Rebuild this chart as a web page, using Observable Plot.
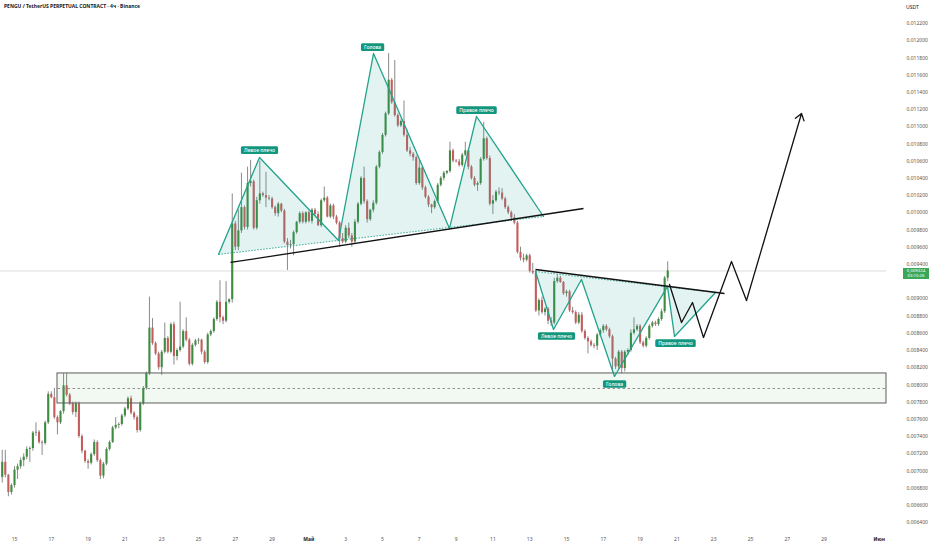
<!DOCTYPE html>
<html><head><meta charset="utf-8">
<script src="https://cdn.jsdelivr.net/npm/d3@7"></script>
<script src="https://cdn.jsdelivr.net/npm/@observablehq/plot@0.6"></script>
<style>
body{margin:0;background:#fff;font-family:"Noto Sans",sans-serif}
#wrap{position:relative;width:932px;height:550px;overflow:hidden}
#title{position:absolute;left:4px;top:3px;font-size:5px;font-weight:700;color:#131722;white-space:nowrap}
#cur{position:absolute;left:906px;top:4px;font-size:5px;color:#131722}
#price{position:absolute;left:903px;width:26px;height:11px;background:#3aa757;color:#fff;font-size:4.3px;line-height:5px;text-align:center;padding-top:0.5px;box-sizing:border-box}
</style></head><body><div id="wrap"><div id="title"></div><div id="cur"></div><div id="price"></div></div>
<script>
// ---------- data (prices in 1e-6 USDT) ----------
const title = "PENGU / TetherUS PERPETUAL CONTRACT · 4ч · Binance";
const currency = "USDT";
const firstBar = "2025-04-14T08:00:00Z";
const barHours = 4;
// [open, high, low, close]
const ohlc = [
[6925,7240,6860,7100],[7100,7240,6920,6950],[6950,6960,6700,6750],[6750,6850,6720,6830],[6830,7050,6800,7010],
[7010,7080,6900,7050],[7050,7150,7020,7120],[7120,7200,7050,7160],[7160,7280,7130,7250],[7250,7280,7100,7260],
[7260,7460,7230,7440],[7440,7560,7400,7450],[7450,7470,7310,7330],[7330,7350,7180,7320],[7320,7580,7300,7560],
[7560,7920,7540,7890],[7890,7920,7840,7850],[7850,7960,7600,7620],[7620,7640,7420,7560],[7560,7700,7540,7690],
[7690,8130,7660,7990],[7990,8130,7860,7880],[7880,7900,7760,7780],[7780,7800,7650,7680],[7680,7800,7620,7780],
[7780,7800,7380,7400],[7400,7420,7200,7230],[7230,7240,7090,7110],[7110,7130,7020,7090],[7090,7210,7070,7190],
[7190,7360,7170,7330],[7330,7350,7100,7120],[7120,7140,6900,6940],[6940,7100,6910,7080],[7080,7270,7060,7250],
[7250,7350,7230,7330],[7330,7520,7320,7500],[7500,7620,7480,7530],[7530,7560,7490,7540],[7540,7660,7520,7640],
[7640,7740,7620,7720],[7720,7860,7700,7840],[7840,7870,7650,7670],[7670,7690,7590,7620],[7620,7640,7440,7470],
[7470,7800,7450,7780],[7780,7980,7760,7960],[7960,8150,7940,8130],
[8130,9020,8110,8660],[8660,8770,8460,8480],[8480,8500,8340,8360],[8360,8380,8170,8200],[8200,8400,8110,8380],
[8380,8720,8360,8540],[8540,8560,8360,8380],[8380,8720,8360,8700],[8700,8730,8230,8330],[8330,8420,8280,8400],
[8400,8960,8380,8440],[8440,8640,8420,8620],[8620,8780,8500,8520],[8520,8540,8220,8240],[8240,8480,8220,8460],
[8460,8530,8440,8510],[8510,8540,8470,8520],[8520,8530,8350,8380],[8380,8400,8240,8260],[8260,8600,8240,8580],
[8580,8640,8560,8620],[8620,8780,8600,8760],[8760,8980,8740,8960],[8960,9210,8720,8780],[8780,8800,8700,8740],
[8740,9200,8720,8960],[8960,9000,8940,8990],[8990,10220,8950,9870],
[9870,9900,9560,9600],[9600,10030,9560,9790],[9790,10460,9760,10060],[10060,10080,9800,9830],[9830,10530,9800,10340],
[10340,10610,10300,10360],[10360,10380,9800,9820],[9820,10180,9800,10140],[10140,10600,10100,10220],[10220,10240,10180,10200],
[10200,10470,10060,10170],[10170,10200,10140,10160],[10160,10180,10040,10060],[10060,10080,9960,9990],[9990,10120,9950,10100],
[10100,10110,10000,10020],[10020,10040,9640,9660],[9660,9700,9330,9620],[9620,9680,9580,9630],[9630,9790,9500,9770],
[9770,9900,9750,9890],[9890,10010,9870,9990],[9990,10010,9870,9890],[9890,10010,9870,10000],[10000,10020,9880,9900],
[9900,10050,9870,10030],[10030,10050,9960,9980],[9980,10010,9840,9850],[9850,10160,9830,10140],[10140,10300,10120,10170],
[10170,10190,9940,9950],[9950,10100,9930,10080],[10080,10100,9920,9950],[9950,9970,9860,9880],[9880,9900,9600,9700],
[9700,9760,9640,9660],[9660,9850,9640,9820],[9820,9880,9700,9730],[9730,9760,9600,9660],[9660,9920,9640,9890],
[9890,10120,9870,10100],[10100,10420,10080,10400],[10400,10530,10100,10130],[10130,10150,9880,9920],[9920,10040,9900,10030],
[10030,10140,10000,10110],[10110,10550,10090,10530],[10530,10720,10510,10700],[10700,10920,10680,10900],[10900,11170,10880,11150],
[11150,11850,11130,11540],[11540,11560,11260,11280],
[11280,11770,11110,11130],[11130,11150,10990,11010],[11010,11080,10990,11060],[11060,11300,10880,10900],[10900,10960,10700,10720],
[10720,10760,10650,10680],[10680,10700,10600,10640],[10640,10660,10320,10340],[10340,10610,10320,10520],[10520,10540,10260,10290],
[10290,10310,10160,10180],[10180,10200,10060,10090],[10090,10100,9990,10060],[10060,10150,10040,10130],[10130,10340,10110,10320],
[10320,10420,10300,10400],[10400,10480,10370,10460],[10460,10490,10440,10480],[10480,10820,10460,10720],[10720,10740,10580,10600],
[10600,10620,10580,10590],[10590,10620,10530,10550],[10550,10690,10530,10670],[10670,10820,10650,10720],[10720,10740,10500,10530],
[10530,10550,10380,10400],[10400,10420,10300,10320],[10320,10360,10250,10340],[10340,10640,10320,10620],[10620,11050,10600,10860],
[10860,10880,10610,10630],[10630,10660,10080,10100],[10100,10200,9980,10140],[10140,10260,10120,10240],[10240,10290,10200,10230],
[10230,10280,10140,10160],[10160,10180,10040,10060],[10060,10080,9980,10000],[10000,10020,9900,9940],[9940,9980,9860,9880],
[9880,9900,9520,9540],[9540,9600,9440,9470],[9470,9520,9420,9450],[9450,9520,9430,9500],[9500,9520,9300,9320],
[9320,9410,9280,9300],[9300,9330,8840,8860],[8860,9000,8800,8980],[8980,9020,8820,8840],[8840,8900,8800,8880],
[8880,8900,8700,8740],[8740,8780,8680,8720],[8720,9240,8700,9200],
[9200,9280,9180,9240],[9240,9260,9180,9190],[9190,9200,9040,9060],[9060,9100,9020,9080],[9080,9100,8840,8860],
[8860,8900,8820,8840],[8840,8860,8700,8720],[8720,8840,8700,8810],[8810,8840,8600,8620],[8620,8640,8520,8540],
[8540,8560,8360,8500],[8500,8520,8440,8460],[8460,8480,8420,8450],[8450,8600,8400,8580],[8580,8650,8560,8630],
[8630,8700,8600,8680],[8680,8700,8620,8640],[8640,8660,8540,8560],[8560,8580,8140,8300],[8300,8320,8180,8210],
[8210,8400,8180,8380],[8380,8400,8130,8190],[8190,8400,8150,8380],[8380,8420,8340,8400],[8400,8640,8380,8600],
[8600,8780,8580,8640],[8640,8700,8620,8680],[8680,8700,8470,8490],[8490,8510,8430,8450],[8450,8560,8430,8540],
[8540,8700,8520,8680],[8680,8740,8660,8720],[8720,8740,8680,8700],[8700,8780,8680,8760],[8760,8880,8740,8850],
[8850,9260,8830,9240],[9240,9430,9200,9324]
];
const lastPrice = 9324;
const countdown = "03:10:26";

const xDomain = ["2025-04-14T05:44:00Z", "2025-06-01T09:23:00Z"];
const xTickDates = ["2025-04-15","2025-04-17","2025-04-19","2025-04-21","2025-04-23","2025-04-25","2025-04-27","2025-04-29",
  "2025-05-01","2025-05-03","2025-05-05","2025-05-07","2025-05-09","2025-05-11","2025-05-13","2025-05-15","2025-05-17",
  "2025-05-19","2025-05-21","2025-05-23","2025-05-25","2025-05-27","2025-05-29","2025-06-01"];
const xTickLabels = ["15","17","19","21","23","25","27","29","Май","3","5","7","9","11","13","15","17","19","21","23","25","27","29","Июн"];
const yDomain = [6308, 12467];
// 0,009200 sits under the last-price label, as in the reference
const yTicks = [6400,6600,6800,7000,7200,7400,7600,7800,8000,8200,8400,8600,8800,9000,9400,9600,9800,
  10000,10200,10400,10600,10800,11000,11200,11400,11600,11800,12000,12200];

// demand zone
const zoneStart = "2025-04-17T08:05:00Z";
const zoneTop = 8133, zoneBottom = 7784, zoneMid = 7958;

// head & shoulders (top)
const topPattern = [["2025-04-26T02:05",9516],["2025-04-28T07:34",10643],["2025-05-02T14:37",9678],
  ["2025-05-04T12:16",11851],["2025-05-08T15:23",9818],["2025-05-10T02:37",11119],["2025-05-13T18:00",9957]];
const topNeck = [["2025-04-26T17:44",9423],["2025-05-15T22:10",10050]];
// inverse head & shoulders (bottom)
const bottomPattern = [["2025-05-13T07:34",9318],["2025-05-14T07:02",8644],["2025-05-15T19:34",9225],
  ["2025-05-17T14:37",8098],["2025-05-20T11:44",9144],["2025-05-20T20:53",8563],["2025-05-23T02:21",9074]];
const bottomNeck = [["2025-05-13T07:34",9341],["2025-05-23T14:05",9062]];
// projected path
const projection = [["2025-05-20T14:21",9167],["2025-05-21T06:00",8725],["2025-05-21T20:21",8958],
  ["2025-05-22T10:42",8551],["2025-05-23T23:12",9434],["2025-05-24T18:48",8981],["2025-05-27T18:32",11154]];
// labels
const labelTexts = ["Левое плечо","Голова","Правое плечо","Левое плечо","Голова","Правое плечо"];
const labelTimes = ["2025-04-28T07:34","2025-05-04T10:58","2025-05-10T02:37","2025-05-14T10:58","2025-05-17T14:37","2025-05-20T22:10"];
const labelValues = [10724,11921,11189,8563,8005,8481];

// ---------- build ----------
const T = s => new Date(s.endsWith("Z") ? s : s + "Z");
const bars = ohlc.map((d, i) => ({t: new Date(Date.parse(firstBar) + i * barHours * 3600e3), o: d[0], h: d[1], l: d[2], c: d[3]}));
const pts = a => a.map(([t, v]) => ({t: T(t), v}));
const topPts = pts(topPattern), botPts = pts(bottomPattern), projPts = pts(projection);
const seg = (a, b) => ({x1: a.t, y1: a.v, x2: b.t, y2: b.v});
const labelMap = new Map(xTickDates.map((d, i) => [+T(d + "T00:00"), xTickLabels[i]]));
const labels = labelTexts.map((s, i) => ({text: s, t: T(labelTimes[i]), v: labelValues[i]}));
const xEnd = T(xDomain[1]);
const teal = "#22a38b", tealFill = "#26a69a";
const up = "#3d8c40", down = "#c55d5d";

const chart = Plot.plot({
  width: 932, height: 550, marginLeft: 0, marginRight: 46, marginTop: 0, marginBottom: 20,
  style: {fontFamily: "'Noto Sans', sans-serif", fontSize: "5px", color: "#555", background: "#fff"},
  x: {type: "utc", domain: xDomain.map(T), axis: null},
  y: {domain: yDomain, axis: null},
  marks: [
    Plot.axisX({ticks: xTickDates.map(d => T(d + "T00:00")), tickFormat: d => labelMap.get(+d), tickSize: 0, tickPadding: 7, label: null, fontSize: 5}),
    Plot.axisY({anchor: "right", ticks: yTicks, tickSize: 0, tickPadding: 20, label: null, fontSize: 5,
      tickFormat: v => (v / 1e6).toFixed(6).replace(".", ",")}),
    Plot.ruleY([lastPrice], {stroke: "#dcdcdc", strokeWidth: 1}),
    // candles
    Plot.ruleX(bars, {x: "t", y1: "l", y2: "h", stroke: "#8a8a8a", strokeWidth: 1}),
    Plot.ruleX(bars, {x: "t", y1: "o", y2: "c", stroke: d => d.c >= d.o ? up : down, strokeWidth: 2.1}),
    // zone
    Plot.rect([{x1: T(zoneStart), x2: xEnd, y1: zoneBottom, y2: zoneTop}], {x1: "x1", x2: "x2", y1: "y1", y2: "y2",
      fill: "#4caf50", fillOpacity: 0.07, stroke: "#5c5c5c", strokeWidth: 1}),
    Plot.link([{x1: T(zoneStart), x2: xEnd, y1: zoneMid, y2: zoneMid}], {x1: "x1", x2: "x2", y1: "y1", y2: "y2",
      stroke: "#777", strokeWidth: 0.8, strokeDasharray: "2.5,2.5"}),
    // patterns
    Plot.line(topPts, {x: "t", y: "v", fill: tealFill, fillOpacity: 0.13, stroke: "none"}),
    Plot.line(botPts, {x: "t", y: "v", fill: tealFill, fillOpacity: 0.13, stroke: "none"}),
    Plot.link([seg(topPts[0], topPts[topPts.length - 1]), seg(botPts[0], botPts[botPts.length - 1])],
      {x1: "x1", y1: "y1", x2: "x2", y2: "y2", stroke: teal, strokeWidth: 0.9, strokeDasharray: "1.5,1.5"}),
    Plot.line(topPts, {x: "t", y: "v", stroke: teal, strokeWidth: 1.3}),
    Plot.line(botPts, {x: "t", y: "v", stroke: teal, strokeWidth: 1.3}),
    // necklines
    Plot.link([seg(...pts(topNeck)), seg(...pts(bottomNeck))], {x1: "x1", y1: "y1", x2: "x2", y2: "y2", stroke: "#111", strokeWidth: 1.3}),
    // projection
    Plot.line(projPts.slice(0, -1), {x: "t", y: "v", stroke: "#111", strokeWidth: 1.3}),
    Plot.arrow([seg(projPts[projPts.length - 2], projPts[projPts.length - 1])], {x1: "x1", y1: "y1", x2: "x2", y2: "y2",
      stroke: "#111", strokeWidth: 1.3, headLength: 9, headAngle: 70}),
    // labels
    Plot.text(labels, {x: "t", y: "v", text: "text", fill: "#fff", fontSize: 5, fontWeight: 500})
  ]
});

const wrap = document.getElementById("wrap");
wrap.insertBefore(chart, wrap.firstChild);
chart.style.position = "absolute"; chart.style.left = "0"; chart.style.top = "0";

// label backgrounds
const labelSet = new Set(labelTexts);
d3.select(chart).selectAll("text").filter(function () { return labelSet.has(this.textContent); }).each(function () {
  const b = this.getBBox();
  const tr = this.getAttribute("transform");
  const r = d3.select(this.parentNode).insert("rect", () => this)
    .attr("x", b.x - 3).attr("y", b.y - 0.8).attr("width", b.width + 6).attr("height", b.height + 1.6)
    .attr("rx", 1.5).attr("fill", "#12967e");
  if (tr) r.attr("transform", tr);
});
// month labels bolder
d3.select(chart).selectAll("text").filter(function () { return this.textContent === "Май" || this.textContent === "Июн"; })
  .attr("font-weight", 700).attr("fill", "#222");

document.getElementById("title").textContent = title;
document.getElementById("cur").textContent = currency;
const py = chart.scale("y").apply(lastPrice);
const pr = document.getElementById("price");
pr.style.top = (py - 2.5) + "px";
pr.innerHTML = (lastPrice / 1e6).toFixed(6).replace(".", ",") + "<br>" + countdown;
</script></body></html>
